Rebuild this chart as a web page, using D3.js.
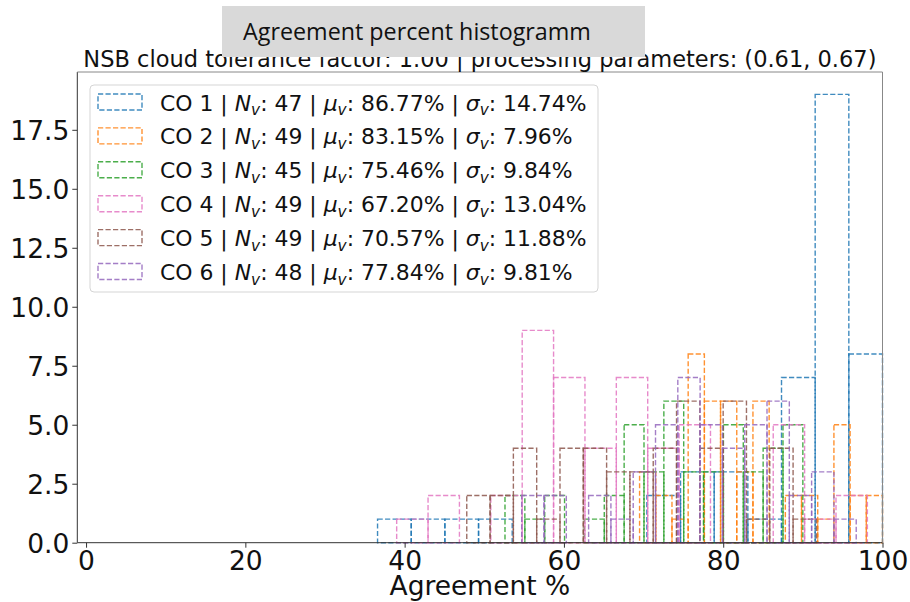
<!DOCTYPE html>
<html>
<head>
<meta charset="utf-8">
<script src="https://cdn.jsdelivr.net/npm/d3@7"></script>
<style>
  body { margin: 0; background: #fff; }
  svg { display: block; }
</style>
</head>
<body>
<svg id="chart" width="910" height="602"></svg>
<script>
// Per-series summary shown in the legend
const seriesNames = ["CO 1", "CO 2", "CO 3", "CO 4", "CO 5", "CO 6"];
const sampleCounts = [47, 49, 45, 49, 49, 48];
const meanPct = ["86.77", "83.15", "75.46", "67.20", "70.57", "77.84"];
const stdPct = ["14.74", "7.96", "9.84", "13.04", "11.88", "9.81"];
const seriesColors = ["#1f77b4", "#ff7f0e", "#2ca02c", "#e377c2", "#8c564b", "#9467bd"];

// Histogram range (min, max of each series) – 15 equal bins each
const binLow = [36.6, 69.5, 52.6, 39.0, 47.8, 54.7];
const binHigh = [100.0, 100.0, 90.0, 98.1, 91.7, 96.7];
const binCount = 15;

// Bin counts per series
const co1Counts = [1, 1, 1, 1, 0, 0, 0, 0, 2, 3, 3, 1, 7, 19, 8];
const co2Counts = [3, 2, 1, 8, 6, 6, 3, 6, 0, 2, 2, 1, 5, 2, 2];
const co3Counts = [2, 1, 2, 0, 1, 2, 5, 3, 6, 3, 3, 5, 3, 4, 5];
const co4Counts = [1, 2, 0, 2, 9, 7, 4, 7, 4, 5, 0, 0, 5, 1, 2];
const co5Counts = [2, 2, 4, 1, 4, 4, 3, 3, 4, 6, 4, 6, 1, 4, 1];
const co6Counts = [2, 2, 0, 2, 1, 3, 5, 7, 5, 4, 5, 6, 2, 3, 1];
const allCounts = [co1Counts, co2Counts, co3Counts, co4Counts, co5Counts, co6Counts];

// Axis ticks
const xTicks = [0, 20, 40, 60, 80, 100];
const yTicks = [0, 2.5, 5, 7.5, 10, 12.5, 15, 17.5];

const titleText = "NSB cloud tolerance factor: 1.00 | processing parameters: (0.61, 0.67)";
const bannerText = "Agreement percent histogramm";
const xLabel = "Agreement %";

const svg = d3.select("#chart");
const plot = { left: 77.3, right: 882.5, top: 72, bottom: 542.7 };

const x = d3.scaleLinear().domain([-1.1, 100]).range([plot.left, plot.right]);
const yMax = d3.max(allCounts, c => d3.max(c)) * 1.05;
const y = d3.scaleLinear().domain([0, yMax]).range([plot.bottom, plot.top]);

const font = "'DejaVu Sans', sans-serif";
const dash = "5.2,2.3";

// Histogram bars: dashed, unfilled outlines
const bars = svg.append("g").attr("class", "bars");
allCounts.forEach((counts, s) => {
  const edges = d3.range(binCount + 1).map(i => binLow[s] + i * (binHigh[s] - binLow[s]) / binCount);
  const bins = counts.map((c, i) => ({ x0: edges[i], x1: edges[i + 1], c }))
                     .filter(b => b.c > 0);
  bars.append("g")
    .selectAll("rect")
    .data(bins)
    .join("rect")
      .attr("x", d => x(d.x0))
      .attr("y", d => y(d.c))
      .attr("width", d => x(d.x1) - x(d.x0))
      .attr("height", d => y(0) - y(d.c))
      .attr("fill", "none")
      .attr("stroke", seriesColors[s])
      .attr("stroke-opacity", 0.85)
      .attr("stroke-width", 1.4)
      .attr("stroke-dasharray", dash);
});

// Axes
const xAxis = d3.axisBottom(x).tickValues(xTicks).tickFormat(d3.format("d")).tickSizeOuter(0).tickSize(5).tickPadding(2);
const yAxis = d3.axisLeft(y).tickValues(yTicks).tickFormat(d3.format(".1f")).tickSizeOuter(0).tickSize(5).tickPadding(3);

const gx = svg.append("g").attr("transform", `translate(0,${plot.bottom})`).call(xAxis);
const gy = svg.append("g").attr("transform", `translate(${plot.left},0)`).call(yAxis);
[gx, gy].forEach(g => {
  g.select(".domain").remove();
  g.selectAll(".tick line").attr("stroke", "#333").attr("stroke-width", 1);
  g.selectAll(".tick text").attr("fill", "#111").style("font-family", font).style("font-size", "26.5px");
});
gx.selectAll(".tick text").attr("dy", "0.76em");
gy.selectAll(".tick text").attr("dy", "0.36em");

// Frame
const frame = svg.append("g").attr("stroke", "#333").attr("stroke-width", 1).attr("fill", "none");
frame.append("line").attr("x1", plot.left).attr("x2", plot.left).attr("y1", plot.top).attr("y2", plot.bottom);
frame.append("line").attr("x1", plot.left).attr("x2", plot.right).attr("y1", plot.bottom).attr("y2", plot.bottom);
frame.append("line").attr("x1", plot.right).attr("x2", plot.right).attr("y1", plot.top).attr("y2", plot.bottom).attr("stroke", "#888");
frame.append("line").attr("x1", plot.left).attr("x2", plot.right).attr("y1", plot.top).attr("y2", plot.top).attr("stroke", "#888");

// Axis label
svg.append("text")
  .attr("x", (plot.left + plot.right) / 2)
  .attr("y", 595)
  .attr("text-anchor", "middle")
  .style("font-family", font)
  .style("font-size", "26.5px")
  .attr("fill", "#111")
  .text(xLabel);

// Title
svg.append("text")
  .attr("x", (plot.left + plot.right) / 2)
  .attr("y", 67)
  .attr("text-anchor", "middle")
  .style("font-family", font)
  .style("font-size", "22.5px")
  .attr("fill", "#111")
  .text(titleText);

// Banner overlaid above the title
svg.append("rect")
  .attr("x", 222).attr("y", 6).attr("width", 423).attr("height", 51)
  .attr("fill", "#d9d9d9");
svg.append("text")
  .attr("x", 243).attr("y", 40)
  .style("font-family", "'Open Sans', sans-serif")
  .style("font-size", "23.3px")
  .attr("fill", "#111")
  .text(bannerText);

// Legend
const legend = svg.append("g");
legend.append("rect")
  .attr("x", 90).attr("y", 85).attr("width", 508).attr("height", 207)
  .attr("rx", 4)
  .attr("fill", "#fff").attr("fill-opacity", 0.85)
  .attr("stroke", "#d5d5d5").attr("stroke-width", 1);

seriesNames.forEach((name, i) => {
  const rowY = 94 + i * 33.9;
  legend.append("rect")
    .attr("x", 98).attr("y", rowY).attr("width", 44).attr("height", 16)
    .attr("fill", "none")
    .attr("stroke", seriesColors[i])
    .attr("stroke-opacity", 0.85)
    .attr("stroke-width", 1.4)
    .attr("stroke-dasharray", dash);

  const t = legend.append("text")
    .attr("x", 160).attr("y", rowY + 16.5)
    .style("font-family", font)
    .style("font-size", "21.9px")
    .attr("fill", "#111");
  const part = (txt, opts = {}) => {
    const ts = t.append("tspan").text(txt);
    if (opts.italic) ts.style("font-style", "italic");
    if (opts.sub) ts.style("font-size", "15.3px").attr("dy", opts.dy);
    else if (opts.dy) ts.attr("dy", opts.dy);
    return ts;
  };
  part(`${name} | `);
  part("N", { italic: true });
  part("v", { italic: true, sub: true, dy: "4.5" });
  part(`: ${sampleCounts[i]} | `, { dy: "-4.5" });
  part("μ", { italic: true });
  part("v", { italic: true, sub: true, dy: "4.5" });
  part(`: ${meanPct[i]}% | `, { dy: "-4.5" });
  part("σ", { italic: true });
  part("v", { italic: true, sub: true, dy: "4.5" });
  part(`: ${stdPct[i]}%`, { dy: "-4.5" });
});
</script>
</body>
</html>
